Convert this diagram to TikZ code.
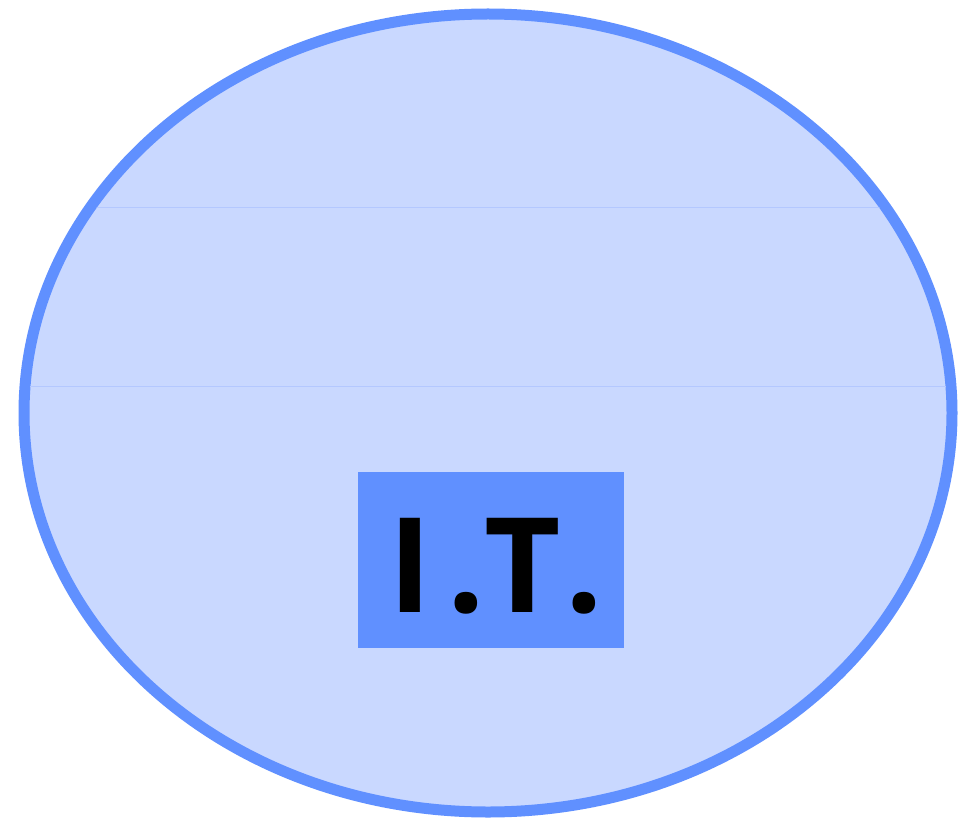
\documentclass[tikz,border=0pt]{standalone}
\usepackage{fontspec}
\usetikzlibrary{shapes.geometric}
\newfontfamily\labelfont{Open Sans}
\definecolor{itblue}{HTML}{6090FF}
\definecolor{itfill}{HTML}{C9D8FF}
\definecolor{itline}{HTML}{B4C8FF}
\tikzset{
  bubble/.style={draw=itblue, fill=itfill, line width=11pt},
  tag/.style={fill=itblue, draw=none, inner sep=0pt, minimum width=266pt, minimum height=176pt,
    font=\labelfont\bfseries\fontsize{132}{132}\selectfont, text=black}
}
\begin{document}
\begin{tikzpicture}[x=1pt,y=-1pt]
\useasboundingbox (0,0) rectangle (969,821);
\fill[white] (0,0) rectangle (969,821);
\node[bubble, ellipse, minimum width=928pt, minimum height=798pt, inner sep=0pt] (oval) at (488,413) {};
\begin{scope}
\clip (488,413) ellipse [x radius=459pt, y radius=393pt];
\draw[itline, line width=1pt] (0,208) -- (969,208);
\draw[itline, line width=0.6pt] (0,386) -- (969,386);
\end{scope}
\node[tag, text depth=0pt, text height=104pt] (it) at (491,560) {\kern10ptI\kern16pt.\kern-1ptT\kern5pt.};
\end{tikzpicture}
\end{document}
